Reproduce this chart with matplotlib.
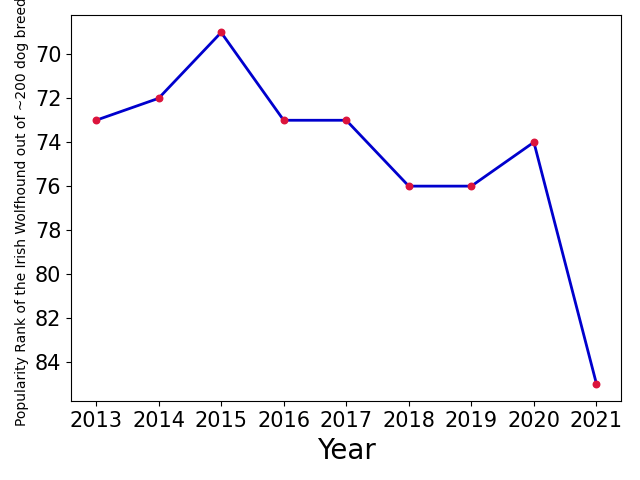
import matplotlib
matplotlib.use("Agg")
import matplotlib.pyplot as plt

years = [2013, 2014, 2015, 2016, 2017, 2018, 2019, 2020, 2021]
ranks = [73, 72, 69, 73, 73, 76, 76, 74, 85]

fig, ax = plt.subplots(figsize=(6.4, 4.8), dpi=100)
ax.plot(years, ranks, color='mediumblue', linewidth=2, zorder=1)
ax.scatter(years, ranks, color='crimson', s=22, zorder=2)
ax.invert_yaxis()
ax.set_xticks(years)
ax.set_yticks([70, 72, 74, 76, 78, 80, 82, 84])
ax.tick_params(labelsize=15)
ax.set_xlabel('Year', fontsize=20)
ax.set_ylabel('Popularity Rank of the Irish Wolfhound out of ~200 dog breeds', fontsize=10)
fig.subplots_adjust(left=0.111, right=0.971, top=0.969, bottom=0.164)
fig.savefig('out.png')
